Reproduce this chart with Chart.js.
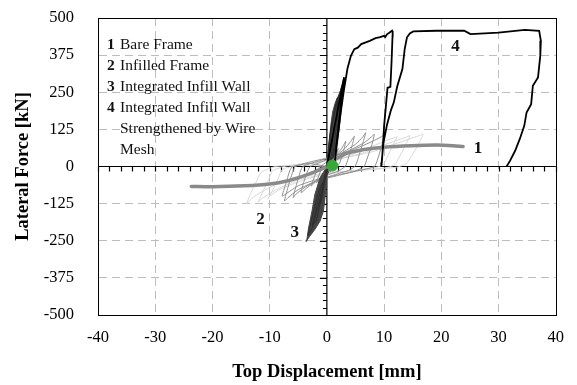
<!DOCTYPE html>
<html>
<head>
<meta charset="utf-8">
<script src="https://cdn.jsdelivr.net/npm/chart.js@4.4.1/dist/chart.umd.min.js"></script>
<style>
html,body{margin:0;padding:0;background:#fff;}
#wrap{width:577px;height:385px;position:relative;}
</style>
</head>
<body>
<div id="wrap"><canvas id="c" width="577" height="385"></canvas></div>
<script>
// ---- tick labels ----
const xTickValues = [-40, -30, -20, -10, 0, 10, 20, 30, 40];
const yTickValues = [-500, -375, -250, -125, 0, 125, 250, 375, 500];

// ---- legend text ----
const legendNumbers = ['1', '2', '3', '4', '', ''];
const legendTexts = ['Bare Frame', 'Infilled Frame', 'Integrated Infill Wall', 'Integrated Infill Wall', 'Strengthened by Wire', 'Mesh'];

// ---- curve labels [x mm, y kN] ----
const curveLabelText = ['1', '2', '3', '4'];
const curveLabelPos = [[26.4, 59], [-11.6, -178], [-5.6, -224], [22.5, 403]];

// ---- series 1: Bare Frame (envelope) [mm, kN] ----
const bareFrame = [[-23.7,-67],[-20,-68],[-14.4,-65],[-10,-59],[-6.8,-48],[-3.9,-31],[-1.6,-14],[0,0],[1.3,22],[2.5,35],[3.6,45],[6.5,57],[10,65],[14.7,70],[19.3,72],[22,70],[23.8,67]];

// ---- series 2: Infilled Frame, early cycles ----
const infilledEarly = [[0,0],
 [0.5,15],[1.2,35],[1.8,52],[2.0,60],[1.6,35],[1.1,10],[0.6,0],[0,-15],[-1.0,-35],[-1.6,-50],[-1.8,-55],[-1.4,-30],[-0.9,-8],[-0.4,0],
 [0.5,18],[1.5,38],[2.5,58],[3.0,75],[3.3,85],[2.9,50],[2.3,15],[1.8,0],[0.8,-15],[-0.5,-30],[-1.8,-48],[-2.4,-60],[-2.7,-65],[-2.2,-35],[-1.6,-8],[-1.2,0],
 [0,15],[1.5,35],[3.0,58],[4.2,85],[4.8,102],[4.4,70],[3.7,25],[3.2,0],[2.0,-15],[0,-30],[-2,-50],[-3.5,-72],[-4.5,-88],[-4.0,-50],[-3.3,-12],[-2.9,0],
 [-1,15],[1,32],[3,50],[5,75],[6.3,100],[6.8,114],[6.3,80],[5.5,30],[4.9,0],[3.5,-15],[1,-30],[-2,-50],[-4.2,-75],[-5.5,-95],[-5.9,-105],[-5.3,-60],[-4.6,-15],[-4.2,0],
 [-2,15],[1,32],[4,55],[6.5,80],[7.8,100],[8.3,108],[7.8,70],[7.0,25],[6.5,0],[5,-15],[2,-30],[-2,-50],[-5,-78],[-6.8,-105],[-7.4,-116],[-6.8,-70],[-6.0,-20],[-5.5,0],
 [-3,15],[1,33],[5,60],[8,85],[9.5,100],[10.0,106],[9.5,65],[8.8,20],[8.3,0],[6,-12],[2,-28],[-2,-45],[-5,-65],[-7,-90],[-7.8,-100],[-7.2,-60],[-6.5,-15],[-6,0],[-3,10],[0,0]];

// ---- series 2: Infilled Frame, late cycles ----
const infilledLate = [[0,0],
 [3,30],[7,60],[10,85],[12,98],[12.3,100],[11.5,70],[10.5,30],[9.8,5],[8,-5],[4,-15],[0,-25],[-4,-45],[-8,-75],[-10,-100],[-10.3,-110],[-9.5,-80],[-8.5,-40],[-7.8,-10],[-6,0],
 [-3,10],[2,25],[7,50],[11,80],[14,100],[14.5,104],[13.7,70],[12.6,30],[11.8,5],[10,-5],[5,-15],[0,-25],[-5,-45],[-9,-80],[-11.5,-110],[-12,-120],[-11.2,-85],[-10.2,-45],[-9.5,-15],[-7.5,0],
 [-4,10],[2,25],[8,50],[12.5,80],[16,103],[16.8,108],[16,75],[14.8,35],[13.8,8],[12,-3],[6,-12],[0,-22],[-6,-40],[-10,-70],[-13,-105],[-14,-125],[-13.3,-90],[-12.3,-50],[-11.5,-20],[-9,0],[-4,5],[0,0]];

// ---- series 3: Integrated Infill Wall (dense loops) ----
const integratedPos = [[0,0],[0.3,70],[0.7,140],[1.0,183],[1.5,217],[2.3,250],[3.0,300],[2.8,250],[2.5,190],[2.1,120],[1.6,60],[1.0,20],[0.4,0],[0,0]];
const integratedNeg = [[0,0],[-1.2,-38],[-2.1,-94],[-2.6,-150],[-3.2,-207],[-3.5,-247],[-3.6,-252],[-3.0,-235],[-2.1,-212],[-1.2,-184],[-0.6,-150],[-0.2,-83],[0,-38],[0,0]];
const integratedLoops = [[0,0],[0.5,100],[0.9,150],[1.2,120],[0.8,40],[0.3,0],[-0.6,-60],[-1.4,-130],[-1.0,-120],[-0.4,-50],[0,0],
 [0.6,110],[1.4,200],[1.9,230],[1.8,160],[1.2,60],[0.5,0],[-1.0,-70],[-2.2,-170],[-2.6,-200],[-1.8,-180],[-0.8,-90],[0,0],
 [0.8,130],[1.8,220],[2.6,270],[2.4,190],[1.7,90],[0.8,0],[-1.4,-80],[-2.8,-190],[-3.3,-230],[-2.6,-210],[-1.3,-120],[0,0]];

// ---- series 4: Integrated Infill Wall Strengthened by Wire Mesh ----
const strengthened = [[0,0],[1.5,150],[3.0,300],[2.1,150],[1.3,0],[1.9,100],[2.4,180],[3.0,260],[3.6,330],[4.2,373],[4.8,395],[5.4,400],[6.0,412],[7.5,423],[8.5,432],[9.3,436],[10.0,440],[10.2,436],[10.5,445],[10.9,450],[11.4,457],[11.5,452],[11.3,350],[11.1,268],[10.6,265],[10.3,200],[10.0,137],[9.8,70],[9.6,13],[9.5,0],[9.9,81],[10.5,140],[11.2,190],[11.7,216],[12.3,270],[13.2,328],[13.6,395],[14.0,435],[14.5,448],[15.1,455],[19.1,457],[24,457],[25.1,446],[30,451],[34.6,460],[37.1,457],[37.4,423],[37.3,373],[36.9,300],[36.0,272],[35.7,210],[34.9,182],[34.5,137],[33.7,92],[32.9,53],[32.0,19],[31.4,0]];

// ---- origin marker ----
const originMarker = [[0.95, 3]];

const toPts = a => a.map(p => ({x: p[0], y: p[1]}));
const SERIF = "'Liberation Serif', 'Times New Roman', serif";

const overlay = {
  id: 'overlay',
  beforeDatasetsDraw(chart) {
    const {ctx, chartArea: a, scales: {x, y}} = chart;
    const x0 = x.getPixelForValue(0), y0 = y.getPixelForValue(0);
    ctx.save();
    ctx.strokeStyle = '#000';
    ctx.lineWidth = 1.2;
    ctx.beginPath();
    ctx.moveTo(x0, a.top); ctx.lineTo(x0, a.bottom);
    ctx.moveTo(a.left, y0); ctx.lineTo(a.right, y0);
    for (let v = -40; v <= 40; v += 2) {
      const px = Math.round(x.getPixelForValue(v)) + 0.5;
      ctx.moveTo(px, y0); ctx.lineTo(px, y0 + 5);
    }
    for (let v = -500; v <= 500; v += 25) {
      const py = Math.round(y.getPixelForValue(v)) + 0.5;
      const len = (v % 125 === 0) ? 7 : 4;
      ctx.moveTo(x0, py); ctx.lineTo(x0 - len, py);
    }
    ctx.stroke();
    ctx.restore();
  },
  afterDatasetsDraw(chart) {
    const {ctx, chartArea: a, scales: {x, y}} = chart;
    ctx.save();
    ctx.strokeStyle = '#000';
    ctx.lineWidth = 1;
    ctx.strokeRect(Math.round(a.left) + 0.5, Math.round(a.top) + 0.5, Math.round(a.right - a.left), Math.round(a.bottom - a.top));
    ctx.fillStyle = '#111';
    ctx.textBaseline = 'middle';
    const lx = a.left + 9, ty = a.top + 27, lh = 21;
    for (let i = 0; i < legendTexts.length; i++) {
      const yy = ty + i * lh;
      if (legendNumbers[i]) {
        ctx.font = 'bold 15.5px ' + SERIF;
        ctx.fillText(legendNumbers[i], lx, yy);
      }
      ctx.font = '15.5px ' + SERIF;
      ctx.fillText(legendTexts[i], lx + 13, yy);
    }
    ctx.font = 'bold 17px ' + SERIF;
    ctx.textAlign = 'center';
    for (let i = 0; i < curveLabelText.length; i++) {
      ctx.fillText(curveLabelText[i], x.getPixelForValue(curveLabelPos[i][0]), y.getPixelForValue(curveLabelPos[i][1]));
    }
    ctx.restore();
  }
};

const gridColor = (edgeMax) => (c) => {
  const v = c.tick ? c.tick.value : null;
  if (v === 0 || v === edgeMax || v === -edgeMax) return 'rgba(0,0,0,0)';
  return '#bdbdbd';
};

new Chart(document.getElementById('c'), {
  type: 'scatter',
  data: {
    datasets: [
      {label: 'origin', data: toPts(originMarker), pointRadius: 5.5, pointBackgroundColor: '#3aa63a', pointBorderColor: '#3aa63a', showLine: false},
      {label: '4', data: toPts(strengthened), showLine: true, borderColor: '#000', borderWidth: 1.8, pointRadius: 0, fill: false, tension: 0},
      {label: '1', data: toPts(bareFrame), showLine: true, borderColor: '#8a8a8a', borderWidth: 3.5, pointRadius: 0, fill: false, tension: 0.3, borderCapStyle: 'round'},
      {label: '3a', data: toPts(integratedLoops), showLine: true, borderColor: '#2e2e2e', borderWidth: 1, pointRadius: 0, fill: false, tension: 0},
      {label: '3p', data: toPts(integratedPos), showLine: true, borderColor: '#444', backgroundColor: '#444', borderWidth: 1, pointRadius: 0, fill: 'shape', tension: 0},
      {label: '3n', data: toPts(integratedNeg), showLine: true, borderColor: '#444', backgroundColor: '#444', borderWidth: 1, pointRadius: 0, fill: 'shape', tension: 0},
      {label: '2a', data: toPts(infilledEarly), showLine: true, borderColor: '#8f8f8f', borderWidth: 1, pointRadius: 0, fill: false, tension: 0.2},
      {label: '2b', data: toPts(infilledLate), showLine: true, borderColor: '#d2d2d2', borderWidth: 0.9, pointRadius: 0, fill: false, tension: 0.2}
    ]
  },
  options: {
    responsive: false,
    animation: false,
    events: [],
    layout: {padding: {top: 18, right: 12, left: 0, bottom: 0}},
    plugins: {legend: {display: false}, tooltip: {enabled: false}},
    scales: {
      x: {
        type: 'linear', min: -40, max: 40,
        afterBuildTicks: (s) => { s.ticks = xTickValues.map(v => ({value: v})); },
        afterFit: (s) => { s.height = 70; },
        ticks: {font: {family: SERIF, size: 16.5}, color: '#000', padding: 13, maxRotation: 0, autoSkip: false},
        grid: {color: gridColor(40), lineWidth: 1, drawTicks: false},
        border: {display: true, color: '#000', width: 1, dash: [8, 5]},
        title: {display: true, text: 'Top Displacement [mm]', font: {family: SERIF, size: 18.5, weight: 'bold'}, color: '#000', padding: {top: 6, bottom: 2}}
      },
      y: {
        type: 'linear', min: -500, max: 500,
        afterBuildTicks: (s) => { s.ticks = yTickValues.map(v => ({value: v})); },
        afterFit: (s) => { s.width = 98; s.paddingTop = 0; s.paddingBottom = 0; },
        ticks: {font: {family: SERIF, size: 16.5}, color: '#000', padding: 24, autoSkip: false},
        grid: {color: gridColor(500), lineWidth: 1, drawTicks: false},
        border: {display: true, color: '#000', width: 1, dash: [8, 5]},
        title: {display: true, text: 'Lateral Force [kN]', font: {family: SERIF, size: 18.5, weight: 'bold'}, color: '#000', padding: {top: 12, bottom: 0}}
      }
    }
  }
  ,plugins: [overlay]
});
</script>
</body>
</html>
